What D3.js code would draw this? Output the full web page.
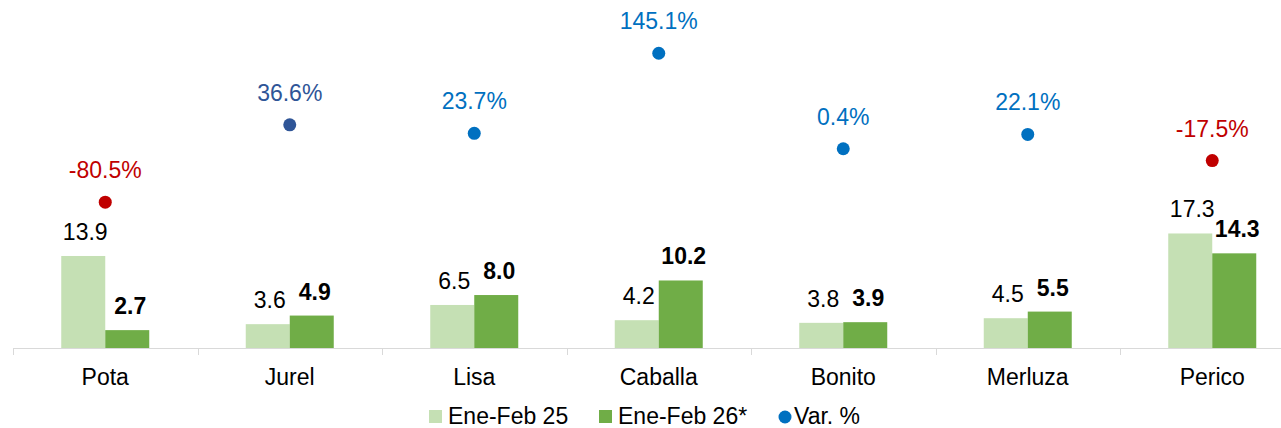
<!DOCTYPE html>
<html>
<head>
<meta charset="utf-8">
<script src="https://cdn.jsdelivr.net/npm/d3@7"></script>
<style>
  body { margin: 0; background: #fff; }
  text { font-family: "Liberation Sans", Arial, sans-serif; }
</style>
</head>
<body>
<div id="chart"></div>
<script>
var categories = ["Pota", "Jurel", "Lisa", "Caballa", "Bonito", "Merluza", "Perico"];
var serie25 = [13.9, 3.6, 6.5, 4.2, 3.8, 4.5, 17.3];
var serie26 = [2.7, 4.9, 8.0, 10.2, 3.9, 5.5, 14.3];
var variacion = [-80.5, 36.6, 23.7, 145.1, 0.4, 22.1, -17.5];
var legendLabels = ["Ene-Feb 25", "Ene-Feb 26*", "Var. %"];

var width = 1281, height = 428;
var colLight = "#c5e0b4", colDark = "#70ad47";
var colBlue = "#0070c0", colNavy = "#2f5597", colRed = "#c00000";
var baseY = 348;
var fs = "23px";

var svg = d3.select("#chart").append("svg")
  .attr("width", width)
  .attr("height", height);

// eje x: cada categoria ocupa ~184.5px, el ultimo se sale del lienzo
var x = d3.scaleBand()
  .domain(categories)
  .range([13, 13 + 184.5 * categories.length]);

var inner = d3.scaleBand()
  .domain(["25", "26"])
  .range([0, 88]);

var y = d3.scaleLinear()
  .domain([0, 20])
  .range([baseY, baseY - 20 * 6.62]);

var y2 = d3.scaleLinear()
  .domain([-150, 150])
  .range([149 + 99, 149 - 99]);

var rows = categories.map(function(c, i) {
  return { cat: c, v25: serie25[i], v26: serie26[i], pct: variacion[i] };
});

// formato con guion normal, no el signo menos unicode
function fmt(v) { return v.toFixed(1); }

function dotColor(d) {
  if (d.pct < 0) return colRed;
  if (d.cat === "Jurel") return colNavy;
  return colBlue;
}

function cx(d) { return x(d.cat) + x.bandwidth() / 2; }

// barras
var groups = svg.append("g").attr("class", "bars")
  .selectAll("g")
  .data(rows)
  .enter().append("g")
  .attr("transform", function(d) { return "translate(" + (cx(d) - 44) + ",0)"; });

groups.append("rect")
  .attr("x", inner("25"))
  .attr("width", inner.bandwidth())
  .attr("y", function(d) { return y(d.v25); })
  .attr("height", function(d) { return baseY - y(d.v25); })
  .attr("fill", colLight);

groups.append("rect")
  .attr("x", inner("26"))
  .attr("width", inner.bandwidth())
  .attr("y", function(d) { return y(d.v26); })
  .attr("height", function(d) { return baseY - y(d.v26); })
  .attr("fill", colDark);

groups.append("text")
  .attr("x", inner("25") + inner.bandwidth() / 2 + 2)
  .attr("y", function(d) { return y(d.v25) - 16; })
  .attr("text-anchor", "middle")
  .attr("font-size", fs)
  .attr("fill", "#000")
  .text(function(d) { return fmt(d.v25); });

groups.append("text")
  .attr("x", inner("26") + inner.bandwidth() / 2 + 3)
  .attr("y", function(d) { return y(d.v26) - 16; })
  .attr("text-anchor", "middle")
  .attr("font-size", fs)
  .attr("font-weight", "bold")
  .attr("fill", "#000")
  .text(function(d) { return fmt(d.v26); });

// eje
var axis = svg.append("g").attr("class", "axis");
axis.append("line")
  .attr("x1", 13).attr("x2", width)
  .attr("y1", baseY + 0.5).attr("y2", baseY + 0.5)
  .attr("stroke", "#d9d9d9").attr("stroke-width", 1);

axis.selectAll(".tick")
  .data(categories)
  .enter().append("line")
  .attr("class", "tick")
  .attr("x1", function(d) { return Math.round(x(d)) + 0.5; })
  .attr("x2", function(d) { return Math.round(x(d)) + 0.5; })
  .attr("y1", baseY).attr("y2", baseY + 7)
  .attr("stroke", "#d9d9d9");

axis.selectAll(".cat-label")
  .data(rows)
  .enter().append("text")
  .attr("class", "cat-label")
  .attr("x", cx)
  .attr("y", 385)
  .attr("text-anchor", "middle")
  .attr("font-size", fs)
  .attr("fill", "#000")
  .text(function(d) { return d.cat; });

// puntos de variacion
var dots = svg.append("g").attr("class", "dots");
dots.selectAll("circle")
  .data(rows)
  .enter().append("circle")
  .attr("cx", cx)
  .attr("cy", function(d) { return y2(d.pct); })
  .attr("r", 6.5)
  .attr("fill", dotColor);

dots.selectAll("text")
  .data(rows)
  .enter().append("text")
  .attr("x", cx)
  .attr("y", function(d) { return y2(d.pct) - 24; })
  .attr("text-anchor", "middle")
  .attr("font-size", fs)
  .attr("fill", dotColor)
  .text(function(d) { return fmt(d.pct) + "%"; });

// leyenda
var legend = svg.append("g").attr("class", "legend");
legend.append("rect").attr("x", 429).attr("y", 410).attr("width", 13).attr("height", 13).attr("fill", colLight);
legend.append("text").attr("x", 448).attr("y", 424).attr("font-size", fs).text(legendLabels[0]);
legend.append("rect").attr("x", 599).attr("y", 410).attr("width", 13).attr("height", 13).attr("fill", colDark);
legend.append("text").attr("x", 618).attr("y", 424).attr("font-size", fs).text(legendLabels[1]);
legend.append("circle").attr("cx", 785).attr("cy", 417).attr("r", 6.5).attr("fill", colBlue);
legend.append("text").attr("x", 794).attr("y", 424).attr("font-size", fs).text(legendLabels[2]);
</script>
</body>
</html>
